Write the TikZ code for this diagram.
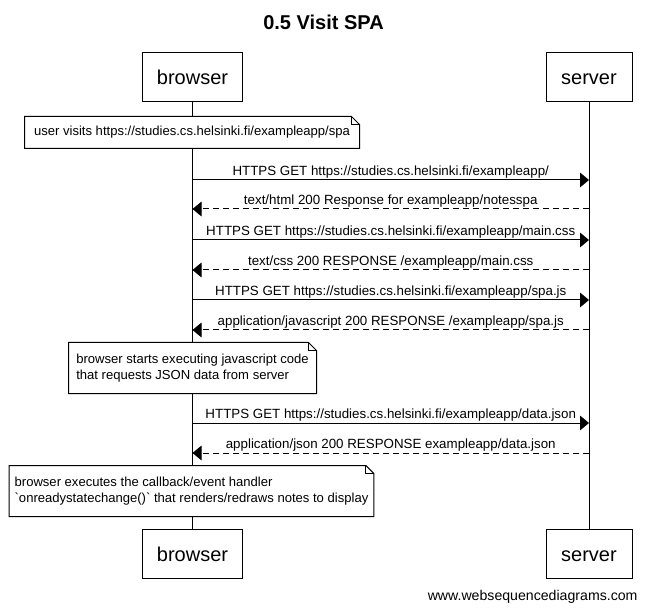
\documentclass[tikz,border=0pt]{standalone}
\usepackage{fontspec}
\setmainfont{Liberation Sans}
\newfontfamily\rawfont{Liberation Sans}[Ligatures=TeXOff]
\usetikzlibrary{arrows.meta,calc}
\newlength\pxl
\setlength\pxl{0.75pt}
\newcommand{\bq}{{\rawfont`}}
\tikzset{
  x=0.75pt, y=-0.75pt,
  every path/.style={line width=0.75pt},
  actor/.style={draw, line width=0.75pt, minimum height=49\pxl, inner sep=0pt,
    text height=10.8pt, text depth=0pt, font=\fontsize{15}{18}\selectfont},
  lifeline/.style={draw, line width=0.75pt},
  msg/.style={-{Triangle[length=6.75pt,width=11pt]}, line width=0.75pt},
  reply/.style={msg, dash pattern=on 4.5pt off 3pt},
  mlabel/.style={font=\fontsize{10}{12}\selectfont, above, inner sep=0pt,
    text height=7.5pt, text depth=2.2pt, yshift=1pt},
  notebox/.style={align=left, inner xsep=5\pxl, inner ysep=0pt,
    font=\fontsize{9.8}{12}\selectfont},
}
\newcommand{\notedraw}[1]{%
  \draw (#1.north west) -- ($(#1.north east)+(-8,0)$) -- ($(#1.north east)+(0,8)$)
    -- (#1.south east) -- (#1.south west) -- cycle;
  \draw ($(#1.north east)+(-8,0)$) -- ($(#1.north east)+(-8,8)$) -- ($(#1.north east)+(0,8)$);
}
\begin{document}
\begin{tikzpicture}
\useasboundingbox (0,0) rectangle (647,613);
\fill[white] (0,0) rectangle (647,613);

\node[font=\bfseries\fontsize{15}{18}\selectfont] (title) at (323.5,22) {0.5 Visit SPA};

\node[actor, minimum width=100\pxl] (bt) at (192.5,77.5) {browser};
\node[actor, minimum width=86\pxl] (st) at (589,77.5) {server};
\node[actor, minimum width=100\pxl] (bb) at (192.5,554) {browser};
\node[actor, minimum width=86\pxl] (sb) at (589,554) {server};

\draw[lifeline] (bt.south) -- (bb.north);
\draw[lifeline] (st.south) -- (sb.north);

% note 1
\node[notebox, fill=white, minimum width=334\pxl, minimum height=31\pxl] (n1) at (192,132.5)
  {user visits https://studies.cs.helsinki.fi/exampleapp/spa};
\notedraw{n1}

% messages
\coordinate (b1) at (192.5,180); \coordinate (s1) at (589,180);
\coordinate (b2) at (192.5,209); \coordinate (s2) at (589,209);
\coordinate (b3) at (192.5,240); \coordinate (s3) at (589,240);
\coordinate (b4) at (192.5,270); \coordinate (s4) at (589,270);
\coordinate (b5) at (192.5,300); \coordinate (s5) at (589,300);
\coordinate (b6) at (192.5,330); \coordinate (s6) at (589,330);
\coordinate (b7) at (192.5,423); \coordinate (s7) at (589,423);
\coordinate (b8) at (192.5,453); \coordinate (s8) at (589,453);

\draw[msg] (b1) -- node[mlabel] {HTTPS GET https://studies.cs.helsinki.fi/exampleapp/} (s1);
\draw[reply] (s2) -- node[mlabel] {text/html 200 Response for exampleapp/notesspa} (b2);
\draw[msg] (b3) -- node[mlabel] {HTTPS GET https://studies.cs.helsinki.fi/exampleapp/main.css} (s3);
\draw[reply] (s4) -- node[mlabel] {text/css 200 RESPONSE /exampleapp/main.css} (b4);
\draw[msg] (b5) -- node[mlabel] {HTTPS GET https://studies.cs.helsinki.fi/exampleapp/spa.js} (s5);
\draw[reply] (s6) -- node[mlabel] {application/javascript 200 RESPONSE /exampleapp/spa.js} (b6);

% note 2
\node[notebox, fill=white, minimum width=247\pxl, minimum height=50\pxl] (n2) at (192.5,368)
  {browser starts executing javascript code\\that requests JSON data from server};
\notedraw{n2}

\draw[msg] (b7) -- node[mlabel] {HTTPS GET https://studies.cs.helsinki.fi/exampleapp/data.json} (s7);
\draw[reply] (s8) -- node[mlabel] {application/json 200 RESPONSE exampleapp/data.json} (b8);

% note 3
\node[notebox, fill=white, minimum width=363\pxl, minimum height=50\pxl] (n3) at (191.5,491)
  {browser executes the callback/event handler\\\bq onreadystatechange()\bq{} that renders/redraws notes to display};
\notedraw{n3}

\node[font=\fontsize{10.6}{12}\selectfont, anchor=east, inner sep=0pt] (foot) at (638,597) {www.websequencediagrams.com};
\end{tikzpicture}
\end{document}
